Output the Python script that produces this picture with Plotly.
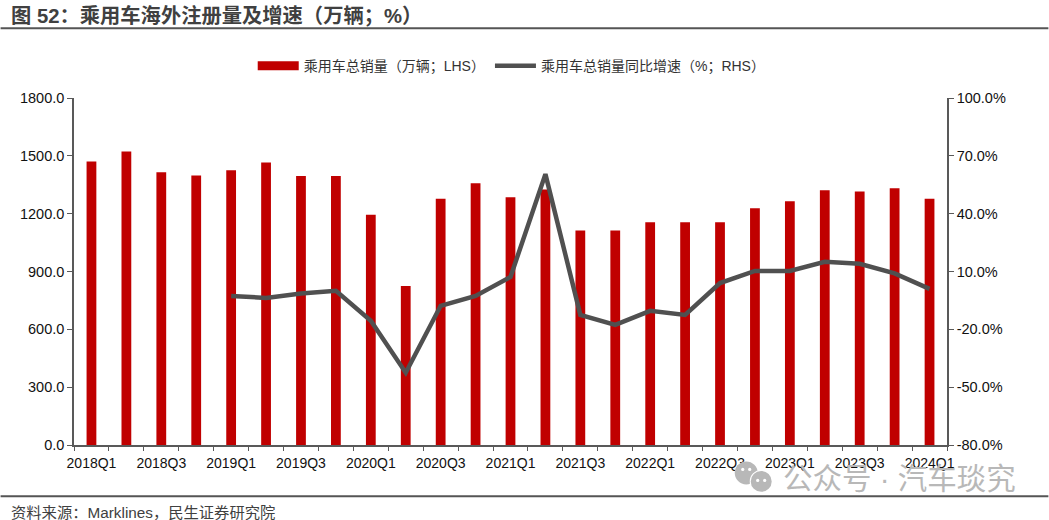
import plotly.graph_objects as go

quarters = ["2018Q1","2018Q2","2018Q3","2018Q4","2019Q1","2019Q2","2019Q3","2019Q4",
            "2020Q1","2020Q2","2020Q3","2020Q4","2021Q1","2021Q2","2021Q3","2021Q4",
            "2022Q1","2022Q2","2022Q3","2022Q4","2023Q1","2023Q2","2023Q3","2023Q4","2024Q1"]
sales = [1470,1522,1415,1398,1425,1465,1395,1395,1195,825,1278,1358,1285,1325,1113,1113,
         1155,1155,1155,1228,1265,1322,1315,1332,1278]
growth = [None,None,None,None,-2.7,-3.7,-1.4,0,-15.6,-42.5,-7.8,-2.7,7.2,60.5,-12.5,-17.7,
          -10.4,-12.5,4,10.3,10.3,15,14,9,1]
x_labels = [q if i % 2 == 0 else "" for i, q in enumerate(quarters)]
left_ticks = [0,300,600,900,1200,1500,1800]
right_ticks = [-80,-50,-20,10,40,70,100]
bar_name = "乘用车总销量（万辆；LHS）"
line_name = "乘用车总销量同比增速（%；RHS）"

FONT = "Liberation Sans, Arial, 'Noto Sans CJK SC', sans-serif"
AXIS = "#595959"
PW, PH = 874, 348
L, T = 73.5, 97.5

fig = go.Figure()
fig.add_trace(go.Bar(x=quarters, y=sales, name=bar_name, marker_color="#C00000",
                     marker_line_width=0, width=0.28, yaxis="y", showlegend=False))
# legend key: Plotly's bar key is a small square, the reference uses a wide band
fig.add_trace(go.Scatter(x=[None], y=[None], name=bar_name, mode="lines",
                         line=dict(color="#C00000", width=9), yaxis="y"))
fig.add_trace(go.Scatter(x=quarters, y=growth, name=line_name, mode="lines",
                         line=dict(color="#505050", width=4.5), yaxis="y2"))
fig.update_layout(
    width=1049, height=520, autosize=False, showlegend=True,
    margin=dict(l=L, r=1049-L-PW, t=T, b=520-T-PH),
    paper_bgcolor="white", plot_bgcolor="white",
    font=dict(family=FONT, size=14, color="#111111"),
    legend=dict(orientation="h", x=0.5014, y=1.092, xanchor="center", yanchor="middle",
                bgcolor="rgba(0,0,0,0)", font=dict(size=14, color="#333333"),
                itemwidth=41, traceorder="normal"),
    xaxis=dict(type="category", tickmode="array", tickvals=quarters, ticktext=x_labels,
               tickson="boundaries", ticks="outside", ticklen=4, tickcolor=AXIS,
               showline=True, linecolor=AXIS, linewidth=1.5, showgrid=False,
               tickangle=0, tickfont=dict(size=14, color="#111111"), range=[-0.5, 24.5],
               ticklabelstandoff=4),
    yaxis=dict(range=[0,1800], tickmode="array", tickvals=left_ticks,
               ticktext=[f"{v:.1f}" for v in left_ticks], ticks="outside", ticklen=5,
               tickcolor=AXIS, showline=True, linecolor=AXIS, linewidth=1.5, showgrid=False,
               zeroline=False, tickfont=dict(size=14.5, color="#111111")),
    yaxis2=dict(range=[-80,100], overlaying="y", side="right", tickmode="array",
                tickvals=right_ticks, ticktext=[f"{v:.1f}%" for v in right_ticks],
                ticks="outside", ticklen=5, tickcolor=AXIS, showline=True, linecolor=AXIS,
                linewidth=1.5, showgrid=False, zeroline=False,
                tickfont=dict(size=14.5, color="#111111")),
    bargap=0.7,
)
def px(x): return (x-L)/PW
def py(y): return 1-(y-T)/PH
for y in [27.5, 497]:
    fig.add_shape(type="line", xref="paper", yref="paper", x0=px(0), x1=px(1049),
                  y0=py(y), y1=py(y), line=dict(color="#555555", width=2))
def ann(text, x, y, size, color):
    fig.add_annotation(text=text, xref="paper", yref="paper", x=px(x), y=py(y),
                       xanchor="left", yanchor="middle", showarrow=False,
                       font=dict(size=size, color=color, family=FONT))
ann("<b>图 52：乘用车海外注册量及增速（万辆；%）</b>", 8, 15, 20.3, "#404040")
ann("资料来源：Marklines，民生证券研究院", 8, 513, 15.3, "#404040")
ann("公众号 · 汽车琰究", 781, 479, 29.5, "#B8B8B8")
def circle(cx, cy, r, fill):
    fig.add_shape(type="circle", xref="paper", yref="paper", fillcolor=fill,
                  line=dict(width=0), x0=px(cx-r), x1=px(cx+r), y0=py(cy+r), y1=py(cy-r))
circle(746.5, 473.5, 11.5, "#B8B8B8")
circle(761.5, 482, 11.5, "white")
circle(761.5, 482, 10.5, "#B8B8B8")
for cx, cy in [(743, 470), (750, 470), (758, 481), (765, 481)]:
    circle(cx, cy, 1.6, "white")
fig.write_html("out.html", config={"displayModeBar": False},
               post_script="document.body.style.margin='0';")
